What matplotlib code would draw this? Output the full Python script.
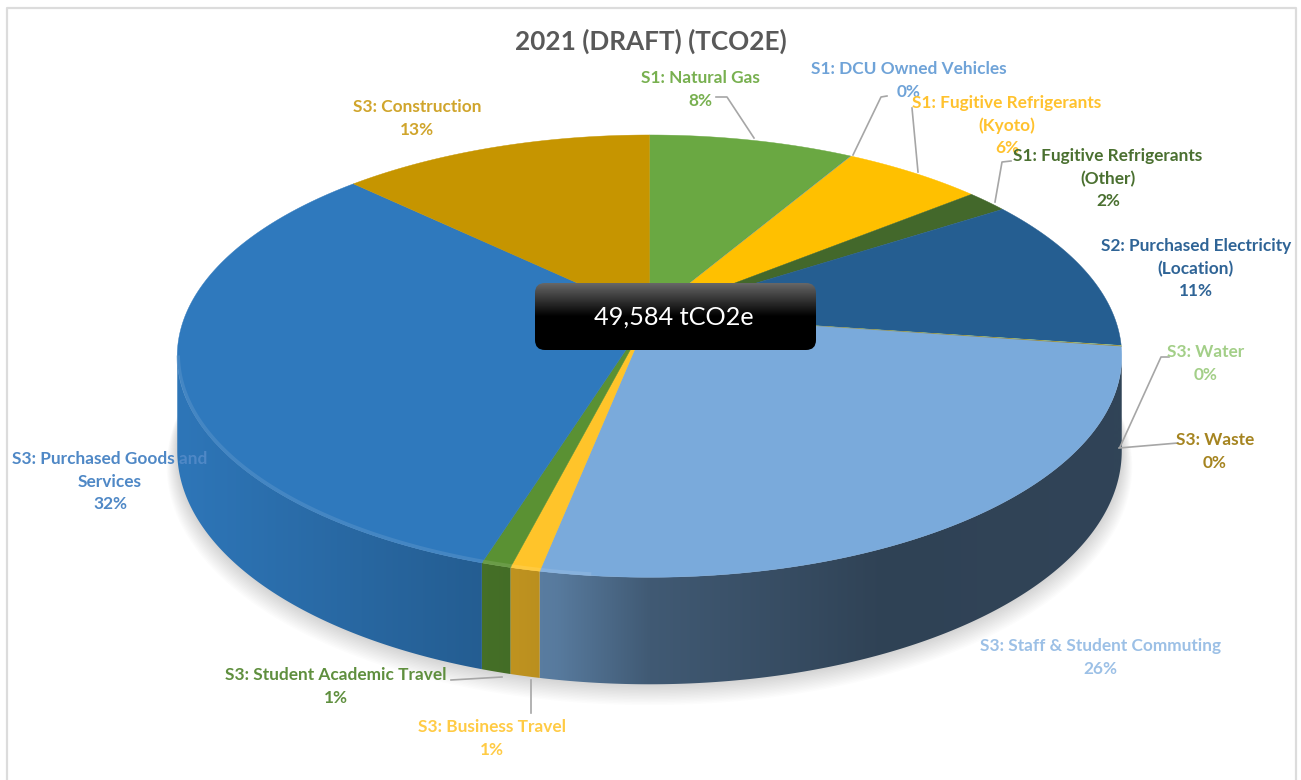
import matplotlib
matplotlib.use("Agg")
import matplotlib.pyplot as plt
import numpy as np
from matplotlib.colors import to_rgb
from matplotlib.patches import FancyBboxPatch, Polygon

plt.rcParams['font.family'] = ['Lato', 'DejaVu Sans']

# clockwise from 12 o'clock
categories = [["S1: Natural Gas"], ["S1: DCU Owned Vehicles"],
              ["S1: Fugitive Refrigerants", "(Kyoto)"],
              ["S1: Fugitive Refrigerants", "(Other)"],
              ["S2: Purchased Electricity", "(Location)"],
              ["S3: Water"], ["S3: Waste"], ["S3: Staff & Student Commuting"],
              ["S3: Business Travel"], ["S3: Student Academic Travel"],
              ["S3: Purchased Goods and", "Services"], ["S3: Construction"]]
values = [8.4, 0.02, 5.7, 1.7, 11.4, 0.04, 0.04, 25.8, 0.85, 0.85, 32.4, 12.8]
slice_colors = ["#6aa842", "#5b9bd5", "#ffc000", "#43682b", "#255e91", "#a9d18e",
                "#9c7a1a", "#7aaadb", "#ffc42a", "#5a9133", "#2f79bd", "#c69500"]
label_colors = ["#78b050", "#6fa3d8", "#ffc22e", "#4a7030", "#2f6496", "#a3cf88",
                "#a58420", "#9cc0e6", "#ffcb45", "#5f8f3e", "#4f88c6", "#d0a52c"]
label_pos = [(700, 78), (909, 69), (1007, 103), (1108, 156), (1196, 246), (1206, 352),
             (1215, 440), (1100, 646), (492, 727), (336, 675), (110, 459), (417, 107)]
leaders = [[(716, 97), (727, 97), (754, 138)],
           [(887, 96), (881, 97), (853, 155)],
           [(912, 108), (918, 172)],
           [(1011, 161), (1002, 162), (995, 202)],
           [(1169, 357), (1161, 357), (1120, 447)],
           [(1178, 443), (1119, 448)],
           [(531, 680), (531, 713)],
           [(451, 680), (502, 677)]]

total_text = "49,584 tCO2e"
title_text = "2021 (DRAFT) (TCO2E)"

# pie geometry in image pixels
cx, cy = 649.5, 315
rx, ry = 464, 213.5
persp = 0.186


def project(theta):
    # theta clockwise from top, in radians
    x, y = np.sin(theta), np.cos(theta)
    w = 1 + persp * y
    return cx + rx * x / w, cy - ry * y / w


def depth(theta):
    return 92 - 15 * np.cos(theta)


def wall_shade(u):
    # u is the horizontal position across the disc, -1 left to 1 right
    return np.interp(u, [-1, -0.33, -0.2, 0, 0.33, 0.5, 1],
                     [0.97, 0.76, 0.72, 0.53, 0.44, 0.39, 0.40])


fig = plt.figure(figsize=(13.01, 7.8), dpi=100)
ax = fig.add_axes([0, 0, 1, 1])
ax.set_xlim(0, 1301)
ax.set_ylim(780, 0)
ax.axis('off')

# soft shadow under the disc
ring = np.linspace(0, 2 * np.pi, 361)
px, py = project(ring)
py = py + depth(ring)
for i in range(14):
    grow = 1 + 0.0016 * (14 - i)
    ax.add_patch(Polygon(np.c_[cx + (px - cx) * grow, cy + (py - cy) * grow + (14 - i) * 0.9],
                         fc="#000000", ec="none", alpha=0.011, zorder=1))

edges = np.r_[0, np.cumsum(values)] / np.sum(values) * 2 * np.pi

# side wall: a horizontal colour ramp clipped to each slice's outline
# only the part in front of the disc's widest points is visible
ramp_x = np.linspace(0, 1301, 651)
ramp = wall_shade((ramp_x - cx) / rx)[None, :, None]
for k, col in enumerate(slice_colors):
    th = np.linspace(edges[k], edges[k + 1], max(int((edges[k + 1] - edges[k]) / 0.005), 2))
    th = th[np.cos(th) < -persp]
    if len(th) < 2:
        continue
    xa, ya = project(th)
    da = depth(th)
    wall = Polygon(np.r_[np.c_[xa, ya], np.c_[xa, ya + da][::-1]], fc="none", ec="none", zorder=2)
    ax.add_patch(wall)
    rgb = ramp * np.array(to_rgb(col))[None, None, :]
    im = ax.imshow(rgb, extent=(0, 1301, 780, 0), aspect='auto', interpolation='bilinear', zorder=2)
    im.set_clip_path(wall)

# top face
for k, col in enumerate(slice_colors):
    th = np.linspace(edges[k], edges[k + 1], max(int((edges[k + 1] - edges[k]) / 0.01), 2))
    xa, ya = project(th)
    ax.add_patch(Polygon(np.r_[[(cx, cy)], np.c_[xa, ya]], fc=col, ec=col, lw=0.3, zorder=3))

# rim highlight, only on the lit left part of the front edge
for k, col in enumerate(slice_colors):
    th = np.linspace(edges[k], edges[k + 1], max(int((edges[k + 1] - edges[k]) / 0.01), 2))
    th = th[(np.cos(th) < -persp) & (np.sin(th) < -0.1)]
    if len(th) < 2:
        continue
    xa, ya = project(th)
    light = np.array(to_rgb(col)) * 0.8 + 0.2
    ax.plot(xa + 1, ya - 1.5, color=light, lw=2.5, alpha=0.5, zorder=4, solid_capstyle='butt')

# centre box with the total
grad = np.linspace(0, 1, 64)[:, None]
box = FancyBboxPatch((545, 293), 261, 47, boxstyle="round,pad=10,rounding_size=10",
                     fc="none", ec="none", zorder=5)
ax.add_patch(box)
im = ax.imshow(np.clip(1 - grad * 2.0, 0, 1) * 0.4, cmap='gray', vmin=0, vmax=1,
               extent=(535, 816, 350, 283), aspect='auto', zorder=5)
im.set_clip_path(box)
ax.set_xlim(0, 1301)
ax.set_ylim(780, 0)
ax.text(674, 317, total_text, color="white", fontsize=18.2, ha='center', va='center', zorder=6)

# leader lines
for pts in leaders:
    pts = np.array(pts)
    ax.plot(pts[:, 0], pts[:, 1], color="#a6a6a6", lw=1.2, zorder=6)

# data labels
for lines, val, pos, col in zip(categories, values, label_pos, label_colors):
    for i, line in enumerate(lines + ["{:.0f}%".format(val)]):
        ax.text(pos[0], pos[1] + i * 22.7, line, color=col, fontsize=12.4, fontweight='bold',
                ha='center', va='center', zorder=7)

ax.text(651, 41, title_text, color="#595959", fontsize=18.8, fontweight='bold',
        ha='center', va='center', zorder=7)

# chart frame
ax.plot([7, 7, 1296, 1296], [780, 8, 8, 780], color="#dcdcdc", lw=1.6, zorder=8)

fig.savefig("out.png", dpi=100)
